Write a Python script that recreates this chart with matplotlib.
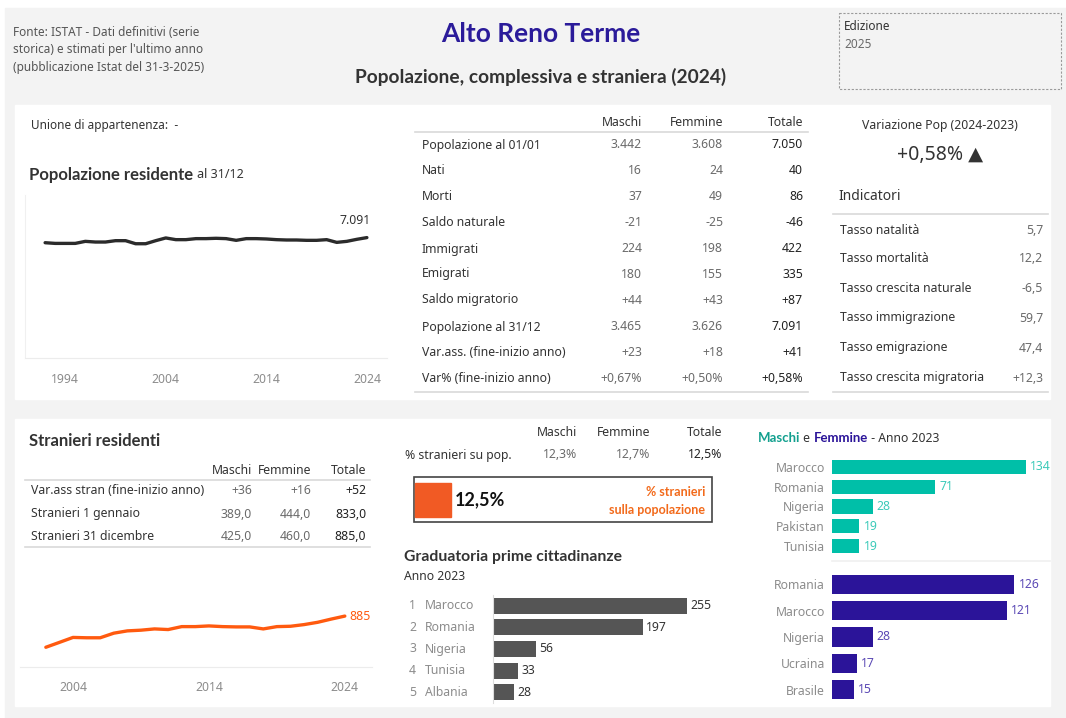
import matplotlib
matplotlib.use("Agg")
import matplotlib.pyplot as plt
from matplotlib.patches import Rectangle

W, H = 1066, 718
plt.rcParams['font.family'] = ['Noto Sans', 'DejaVu Sans']
BOLD_FAMILY = ['Lato', 'DejaVu Sans']

# ---- data ----
pop_years = list(range(1992, 2025))
pop_values = [6790, 6750, 6750, 6750, 6870, 6830, 6830, 6910, 6910, 6730, 6730,
              6910, 7070, 6970, 6970, 7030, 7030, 7050, 7030, 6930, 7030, 7030,
              7010, 6970, 6950, 6950, 6930, 6930, 6970, 6810, 6870, 6990, 7091]

str_years = list(range(2002, 2025))
str_values = [343, 428, 514, 508, 508, 588, 628, 640, 662, 651, 702, 702,
              714, 702, 697, 697, 662, 702, 708, 737, 777, 833, 885]

table_cols = ['Maschi', 'Femmine', 'Totale']
table_rows = ['Popolazione al 01/01', 'Nati', 'Morti', 'Saldo naturale', 'Immigrati',
              'Emigrati', 'Saldo migratorio', 'Popolazione al 31/12',
              'Var.ass. (fine-inizio anno)', 'Var% (fine-inizio anno)']
table_m = ['3.442', '16', '37', '-21', '224', '180', '+44', '3.465', '+23', '+0,67%']
table_f = ['3.608', '24', '49', '-25', '198', '155', '+43', '3.626', '+18', '+0,50%']
table_t = ['7.050', '40', '86', '-46', '422', '335', '+87', '7.091', '+41', '+0,58%']

ind_labels = ['Tasso natalità', 'Tasso mortalità', 'Tasso crescita naturale',
              'Tasso immigrazione', 'Tasso emigrazione', 'Tasso crescita migratoria']
ind_values = ['5,7', '12,2', '-6,5', '59,7', '47,4', '+12,3']

str_rows = ['Var.ass stran (fine-inizio anno)', 'Stranieri 1 gennaio', 'Stranieri 31 dicembre']
str_m = ['+36', '389,0', '425,0']
str_f = ['+16', '444,0', '460,0']
str_t = ['+52', '833,0', '885,0']

pct_m, pct_f, pct_t = '12,3%', '12,7%', '12,5%'

rank_countries = ['Marocco', 'Romania', 'Nigeria', 'Tunisia', 'Albania']
rank_values = [255, 197, 56, 33, 28]

male_countries = ['Marocco', 'Romania', 'Nigeria', 'Pakistan', 'Tunisia']
male_values = [134, 71, 28, 19, 19]
female_countries = ['Romania', 'Marocco', 'Nigeria', 'Ucraina', 'Brasile']
female_values = [126, 121, 28, 17, 15]

# ---- colours ----
BG = '#f3f3f3'
DARK = '#333333'
TOT = '#222222'
MID = '#6a6a6a'
TICK = '#8c8c8c'
ORANGE = '#ff5a0f'
TEAL = '#00bfa8'
TEAL_TXT = '#3ccab9'
PURPLE = '#2b1499'
PURPLE_TXT = '#5b49b5'
TITLE = '#2b1b9a'
FS = 8.8


def px_axes(fig, x0, y0, x1, y1):
    ax = fig.add_axes([x0 / W, 1 - y1 / H, (x1 - x0) / W, (y1 - y0) / H])
    ax.set_facecolor('none')
    return ax


fig = plt.figure(figsize=(W / 100, H / 100), dpi=100)
fig.patch.set_facecolor('white')
renderer = fig.canvas.get_renderer()

bg = fig.add_axes([0, 0, 1, 1])
bg.set_xlim(0, W)
bg.set_ylim(H, 0)
bg.axis('off')

bg.add_patch(Rectangle((5, 8), W - 5, H - 8, color=BG, zorder=0))
bg.add_patch(Rectangle((15, 105), 1035, 294, color='white', zorder=1))
bg.add_patch(Rectangle((15, 419), 1035, 287, color='white', zorder=1))


def txt(x, y, s, size=FS, color=DARK, ha='left', weight='normal'):
    kw = {'family': BOLD_FAMILY} if weight == 'bold' else {}
    return bg.text(x, y, s, fontsize=size, color=color, ha=ha, va='center',
                   fontweight=weight, zorder=5, **kw)


def runs(x, y, parts):
    # consecutive text pieces (text, size, color, weight) on one line
    for s, size, col, wt in parts:
        t = txt(x, y, s, size=size, color=col, weight=wt)
        x += t.get_window_extent(renderer=renderer).width


def hline(x0, x1, y, color='#d9d9d9', lw=1.2):
    bg.plot([x0, x1], [y, y], color=color, lw=lw, zorder=4)


# ---- header ----
for i, line in enumerate(['Fonte: ISTAT - Dati definitivi (serie',
                          "storica) e stimati per l'ultimo anno",
                          '(pubblicazione Istat del 31-3-2025)']):
    txt(13, 33 + i * 17, line, size=8.5, color='#555555')
txt(541, 34, 'Alto Reno Terme', size=19, color=TITLE, ha='center', weight='bold')
txt(541, 77, 'Popolazione, complessiva e straniera (2024)', size=13.8, ha='center',
    weight='bold')
bg.add_patch(Rectangle((839, 13), 222, 76, fill=False, ec='#9a9a9a', lw=0.8,
                       ls=(0, (2, 1.5)), zorder=4))
txt(844, 27, 'Edizione', size=8.5)
txt(844, 45, '2025', size=8.5, color=MID)

# ---- top left ----
txt(31, 125, 'Unione di appartenenza:  -', size=8.5)
runs(29, 175, [('Popolazione residente ', 12, DARK, 'bold'),
               ('al 31/12', 9, DARK, 'normal')])

ax1 = px_axes(fig, 25, 195, 387, 358)
ax1.plot(pop_years, pop_values, color='#2b2b2b', lw=2.4, solid_capstyle='round')
ax1.set_xlim(1990, 2026)
ax1.set_ylim(0, 9600)
ax1.set_xticks([1994, 2004, 2014, 2024])
ax1.set_yticks([])
ax1.tick_params(axis='x', length=0, labelsize=FS, labelcolor=TICK, pad=11)
for s in ['top', 'right']:
    ax1.spines[s].set_visible(False)
ax1.spines['left'].set_color('#f0f0f0')
ax1.spines['bottom'].set_color('#ececec')
ax1.annotate(f'{pop_values[-1]:,}'.replace(',', '.'), (pop_years[-1], pop_values[-1]),
             xytext=(3, 12), textcoords='offset points', ha='right', va='center',
             fontsize=FS, color=DARK)

# ---- top table ----
col_x = [642, 723, 803]
for cx, c in zip(col_x, table_cols):
    txt(cx, 122, c, ha='right')
hline(415, 808, 132)
row_y = [145, 171, 197, 223, 249, 274, 300, 327, 353, 379]
for ry, lab, m, f, t in zip(row_y, table_rows, table_m, table_f, table_t):
    txt(422, ry, lab)
    txt(col_x[0], ry, m, ha='right', color=MID)
    txt(col_x[1], ry, f, ha='right', color=MID)
    txt(col_x[2], ry, t, ha='right', color=TOT)
hline(415, 808, 392)

# ---- indicators ----
txt(940, 125, 'Variazione Pop (2024-2023)', ha='center')
txt(940, 155, '+0,58% ▲', size=14, ha='center')
txt(838, 197, 'Indicatori', size=10)
hline(833, 1048, 214)
ind_y = [230, 259, 289, 318, 348, 378]
for iy, lab, v in zip(ind_y, ind_labels, ind_values):
    txt(840, iy, lab)
    txt(1043, iy, v, ha='right', color=MID)
hline(833, 1048, 392)

# ---- bottom left ----
txt(29, 441, 'Stranieri residenti', size=12, weight='bold')
scol_x = [252, 311, 366]
for cx, c in zip(scol_x, table_cols):
    txt(cx, 470, c, ha='right')
hline(25, 370, 480)
for ry, lab, m, f, t in zip([491, 514, 537], str_rows, str_m, str_f, str_t):
    txt(31, ry, lab)
    txt(scol_x[0], ry, m, ha='right', color=MID)
    txt(scol_x[1], ry, f, ha='right', color=MID)
    txt(scol_x[2], ry, t, ha='right', color=TOT)
hline(25, 370, 547)

ax2 = px_axes(fig, 20, 560, 372, 667)
ax2.plot(str_years, str_values, color=ORANGE, lw=2.4, solid_capstyle='round')
ax2.set_xlim(2000.1, 2026)
ax2.set_ylim(0, 1860)
ax2.set_xticks([2004, 2014, 2024])
ax2.set_yticks([])
ax2.tick_params(axis='x', length=0, labelsize=FS, labelcolor=TICK, pad=10)
for s in ['top', 'right', 'left']:
    ax2.spines[s].set_visible(False)
ax2.spines['bottom'].set_color('#ececec')
ax2.annotate(str(str_values[-1]), (str_years[-1], str_values[-1]),
             xytext=(3, 0), textcoords='offset points', ha='left', va='center',
             fontsize=FS, color=ORANGE)

# ---- bottom middle ----
pcol_x = [577, 650, 722]
for cx, c in zip(pcol_x, table_cols):
    txt(cx, 433, c, ha='right')
txt(405, 455, '% stranieri su pop.')
txt(pcol_x[0], 455, pct_m, ha='right', color=MID)
txt(pcol_x[1], 455, pct_f, ha='right', color=MID)
txt(pcol_x[2], 455, pct_t, ha='right', color=TOT)

bg.add_patch(Rectangle((414, 477), 298, 45, fill=False, ec='#444444', lw=1.2, zorder=4))
bg.add_patch(Rectangle((415, 483), 36, 34, color='#f15a24', zorder=5))
txt(455, 500, pct_t, size=13, weight='bold', color='#111111')
txt(705, 492, '% stranieri', size=9, ha='right', weight='bold', color='#f26a1b')
txt(705, 510, 'sulla popolazione', size=9, ha='right', weight='bold', color='#f26a1b')

txt(404, 557, 'Graduatoria prime cittadinanze', size=11.3, weight='bold')
txt(404, 577, 'Anno 2023')

ax3 = px_axes(fig, 493, 595, 723, 703)
ax3.barh(range(len(rank_values)), rank_values, height=0.74, color='#555555')
ax3.set_xlim(0, 302)
ax3.set_ylim(4.5, -0.5)
ax3.set_xticks([])
ax3.set_yticks([])
for s in ['top', 'right', 'bottom']:
    ax3.spines[s].set_visible(False)
ax3.spines['left'].set_color('#dddddd')
for i, (c, v) in enumerate(zip(rank_countries, rank_values)):
    ax3.text(v + 4, i, str(v), va='center', fontsize=FS, color=DARK)
    ax3.text(-84 / 230, i, str(i + 1), va='center', ha='left', fontsize=FS, color=TICK,
             transform=ax3.get_yaxis_transform())
    ax3.text(-68 / 230, i, c, va='center', ha='left', fontsize=FS, color=TICK,
             transform=ax3.get_yaxis_transform())

# ---- bottom right ----
runs(758, 438, [('Maschi', 9.5, '#13a08f', 'bold'), (' e ', FS, DARK, 'normal'),
                ('Femmine', 9.5, PURPLE, 'bold'), (' - Anno 2023', FS, DARK, 'normal')])


def gender_bars(y0, y1, countries, values, color, txtcolor):
    ax = px_axes(fig, 832, y0, 1050, y1)
    ax.barh(range(len(values)), values, height=0.72, color=color)
    ax.set_xlim(0, 218 / 1.447)
    ax.set_ylim(len(values) - 0.5, -0.5)
    ax.set_xticks([])
    ax.set_yticks(range(len(values)))
    ax.set_yticklabels(countries)
    ax.tick_params(axis='y', length=0, labelsize=FS, labelcolor=TICK, pad=5)
    for s in ['top', 'right', 'left', 'bottom']:
        ax.spines[s].set_visible(False)
    for i, v in enumerate(values):
        ax.text(v + 3, i, str(v), va='center', fontsize=FS, color=txtcolor)
    return ax


gender_bars(457, 556, male_countries, male_values, TEAL, TEAL_TXT)
hline(832, 1050, 561, color='#f0f0f0')
gender_bars(571, 703, female_countries, female_values, PURPLE, PURPLE_TXT)

fig.savefig('out.png', dpi=100, facecolor=fig.get_facecolor())
